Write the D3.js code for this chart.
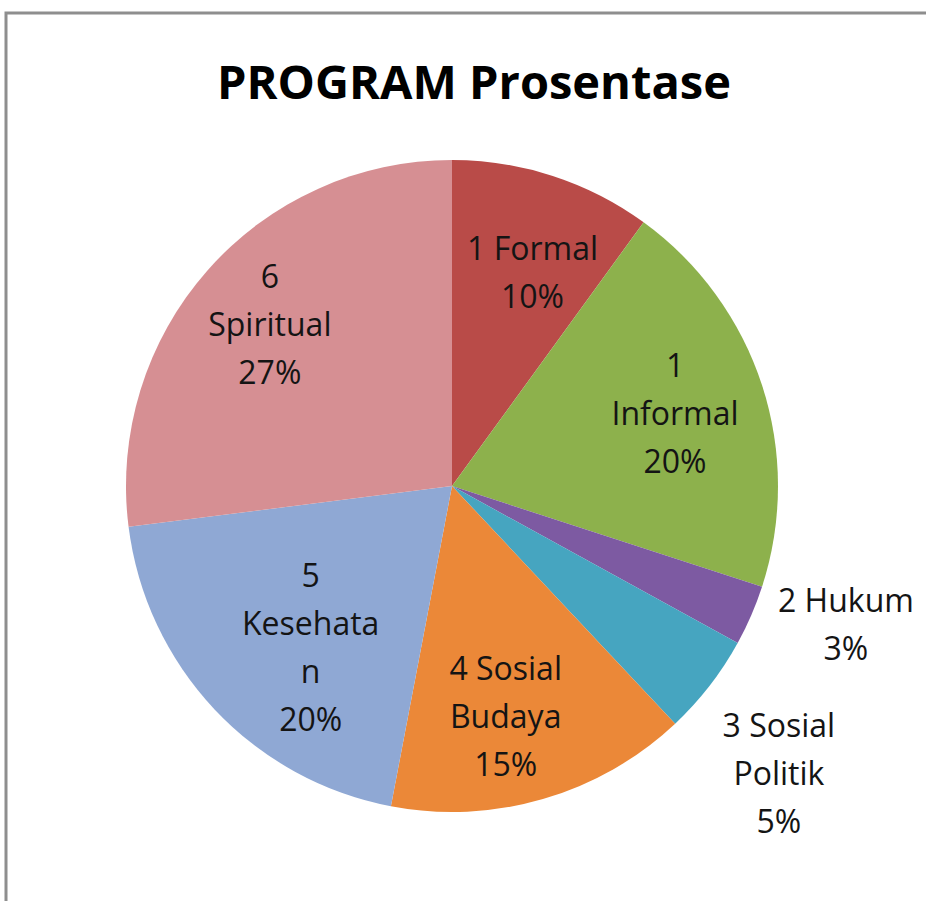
<!DOCTYPE html>
<html>
<head>
<meta charset="utf-8">
<script src="https://cdn.jsdelivr.net/npm/d3@7"></script>
<style>
  html, body { margin: 0; padding: 0; background: #fff; }
  svg { display: block; }
</style>
</head>
<body>
<div id="chart"></div>
<script>
const CATEGORIES = ["1 Formal", "1 Informal", "2 Hukum", "3 Sosial Politik", "4 Sosial Budaya", "5 Kesehatan", "6 Spiritual"];
const VALUES = [10, 20, 3, 5, 15, 20, 27];
// label text as Excel wrapped it
const LABEL_LINES = [["1 Formal"], ["1", "Informal"], ["2 Hukum"], ["3 Sosial", "Politik"], ["4 Sosial", "Budaya"], ["5", "Kesehata", "n"], ["6", "Spiritual"]];
const SLICE_COLORS = ["#B94B48", "#8DB14C", "#7D5AA2", "#46A5C0", "#EB8838", "#8FA8D4", "#D68F93"];

const WIDTH = 926, HEIGHT = 901;
const CX = 452, CY = 486, R = 326;
const LINE_H = 48;

const svg = d3.select("#chart").append("svg")
  .attr("width", WIDTH)
  .attr("height", HEIGHT);

// chart area frame (only top/left edges show)
svg.append("rect")
  .attr("x", 6).attr("y", 13)
  .attr("width", WIDTH + 40).attr("height", HEIGHT + 40)
  .attr("fill", "#fff")
  .attr("stroke", "#8e8e8e")
  .attr("stroke-width", 3);

svg.append("text")
  .attr("x", 474).attr("y", 99)
  .attr("text-anchor", "middle")
  .style("font-family", "'Open Sans', sans-serif")
  .style("font-weight", "bold")
  .style("font-size", "47px")
  .attr("fill", "#000")
  .text("PROGRAM Prosentase");

const data = CATEGORIES.map((name, i) => ({ name, value: VALUES[i], lines: LABEL_LINES[i], color: SLICE_COLORS[i] }));
const total = d3.sum(VALUES);
const pct = d3.format(".0%");

const pie = d3.pie().value(d => d.value).sort(null);
const arcs = pie(data);
const arc = d3.arc().innerRadius(0).outerRadius(R);

const g = svg.append("g").attr("transform", `translate(${CX},${CY})`);

g.selectAll("path")
  .data(arcs)
  .join("path")
  .attr("d", arc)
  .attr("fill", d => d.data.color);

// inside labels sit at ~70% radius, small slices get labels outside
const insideArc = d3.arc().innerRadius(R * 0.7).outerRadius(R * 0.7);
const outsideArc = d3.arc().innerRadius(R * 1.3).outerRadius(R * 1.3);
const NUDGE = [[10, 3], [6, -2], [5, -30], [-8, 27], [-10, 11], [25, 5], [-11, -11]];

const labels = g.selectAll("text.label")
  .data(arcs)
  .join("text")
  .attr("class", "label")
  .attr("text-anchor", "middle")
  .style("font-family", "'Open Sans', sans-serif")
  .style("font-size", "32px")
  .attr("fill", "#141414")
  .each(function (d, i) {
    const outside = d.data.value / total < 0.08;
    const [x, y] = (outside ? outsideArc : insideArc).centroid(d);
    const lines = d.data.lines.concat([pct(d.data.value / total)]);
    const cx = x + NUDGE[i][0];
    const firstBase = y + NUDGE[i][1] - (lines.length - 1) * LINE_H / 2 + 12;
    d3.select(this).selectAll("tspan")
      .data(lines)
      .join("tspan")
      .attr("x", cx)
      .attr("y", (l, j) => firstBase + j * LINE_H)
      .text(l => l);
  });
</script>
</body>
</html>
